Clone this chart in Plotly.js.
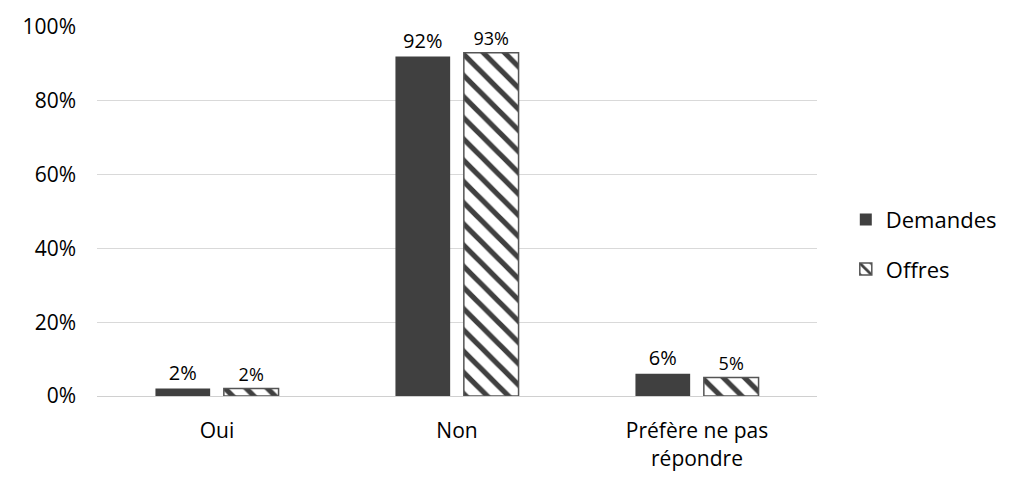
<!DOCTYPE html>
<html>
<head>
<meta charset="utf-8">
<script src="https://cdn.plot.ly/plotly-3.0.1.min.js"></script>
<style>
  html, body { margin: 0; padding: 0; background: #fff; }
  #chart { width: 1024px; height: 491px; }
</style>
</head>
<body>
<div id="chart"></div>
<script>
var categories = ['Oui', 'Non', 'Préfère ne pas<br>répondre'];
var demandes = [0.02, 0.92, 0.06];
var offres = [0.02, 0.93, 0.05];

var font = 'Open Sans, Noto Sans, sans-serif';

var traces = [
  {
    x: categories,
    y: demandes,
    name: 'Demandes',
    type: 'bar',
    legendgroup: 'a',
    marker: { color: '#404040' },
    texttemplate: '%{y:.0%}',
    textposition: 'outside',
    textfont: { size: 20, color: '#000' },
    cliponaxis: false
  },
  {
    x: categories,
    y: offres,
    name: 'Offres',
    type: 'bar',
    legendgroup: 'b',
    marker: {
      color: '#ffffff',
      line: { color: '#555555', width: 1.5 },
      pattern: { shape: '\\', fgcolor: '#404040', bgcolor: '#ffffff', size: 15, solidity: 0.35 }
    },
    texttemplate: '%{y:.0%}',
    textposition: 'outside',
    textfont: { size: 18, color: '#000' },
    cliponaxis: false
  }
];

var layout = {
  width: 1024,
  height: 491,
  margin: { l: 97, r: 207, t: 27, b: 95 },
  paper_bgcolor: '#fff',
  plot_bgcolor: '#fff',
  font: { family: font, size: 22, color: '#000' },
  barmode: 'group',
  bargap: 0.43,
  bargroupgap: 0.2,
  showlegend: true,
  legend: {
    x: 1.04, y: 0.41, xanchor: 'left', yanchor: 'middle',
    font: { size: 22 },
    traceorder: 'grouped',
    tracegroupgap: 18,
    itemwidth: 30
  },
  xaxis: {
    showgrid: false,
    showline: true,
    linecolor: '#d0d0d0',
    linewidth: 1,
    ticks: '',
    ticklabelstandoff: 16,
    tickfont: { size: 21 }
  },
  yaxis: {
    range: [0, 1],
    dtick: 0.2,
    tickformat: '.0%',
    showgrid: true,
    gridcolor: '#d9d9d9',
    zeroline: false,
    ticks: '',
    ticklabelstandoff: 20,
    tickfont: { size: 21 }
  }
};

Plotly.newPlot('chart', traces, layout, { displayModeBar: false, staticPlot: true });
</script>
</body>
</html>
